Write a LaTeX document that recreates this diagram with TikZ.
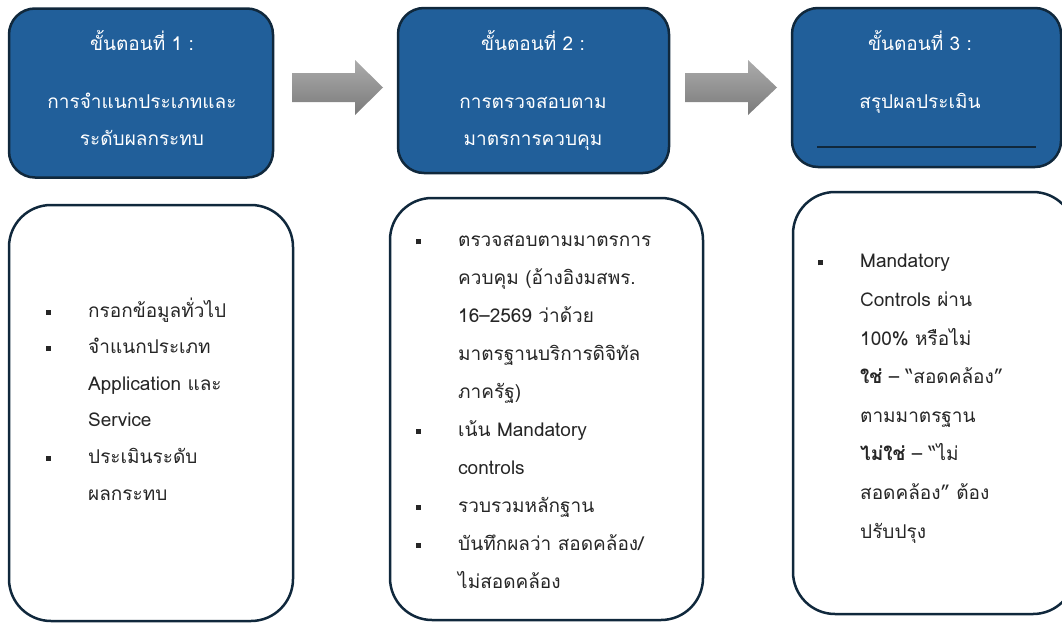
\documentclass[tikz,border=0pt]{standalone}
\usepackage{fontspec}
\newfontfamily\thaifont[Script=Thai]{Loma}
\definecolor{stepblue}{RGB}{33,95,154}
\definecolor{navy}{RGB}{16,40,60}
\definecolor{arrowtop}{RGB}{172,172,172}
\definecolor{arrowbot}{RGB}{122,122,122}
\definecolor{bodytext}{RGB}{38,38,38}
\newcommand\bulsq{\makebox[0pt][r]{\rule[2.5pt]{5pt}{5pt}\hspace{37pt}}}
\begin{document}
\begin{tikzpicture}[x=1pt,y=-1pt,
  topbox/.style={draw=navy, line width=2.5pt, fill=stepblue, rounded corners=26pt, inner sep=0pt},
  detbox/.style={draw=navy, line width=2.5pt, fill=white, rounded corners=42pt, inner sep=0pt},
  toptext/.style={text=white, font=\thaifont\fontsize{19}{37}\selectfont, inner sep=0pt, anchor=base},
  listtext/.style={text=bodytext, align=left, inner sep=0pt, anchor=base west},
  blockarrow/.style={top color=arrowtop, bottom color=arrowbot, draw=none}]
\useasboundingbox (0,0) rectangle (1062,624);
\clip (0,0) rectangle (1062,624);

% top step boxes
\node[topbox, minimum width=264pt, minimum height=169pt] (s1) at (141,93) {};
\node[topbox, minimum width=271pt, minimum height=165pt] (s2) at (533.5,90.5) {};
\node[topbox, minimum width=269pt, minimum height=159pt] (s3) at (926.5,87.5) {};

\node[toptext] (s1t) at (142,50) {ขั้นตอนที่ 1 :};
\node[toptext] (s1a) at (142,108) {การจำแนกประเภทและ};
\node[toptext] (s1b) at (142,145) {ระดับผลกระทบ};

\node[toptext] (s2t) at (533,50) {ขั้นตอนที่ 2 :};
\node[toptext] (s2a) at (533,108) {การตรวจสอบตาม};
\node[toptext] (s2b) at (533,145) {มาตรการควบคุม};

\node[toptext] (s3t) at (920,50) {ขั้นตอนที่ 3 :};
\node[toptext] (s3a) at (920,108) {สรุปผลประเมิน};
\coordinate (l3a) at (817,147);
\coordinate (l3b) at (1036,147);
\draw[navy, line width=1.2pt] (l3a) -- (l3b);

% block arrows
\path[blockarrow] (292,73) -- (355,73) -- (355,60) -- (383,87.5) -- (355,115) -- (355,102) -- (292,102) -- cycle;
\path[blockarrow] (685,73) -- (748,73) -- (748,60) -- (777,87.5) -- (748,115) -- (748,102) -- (685,102) -- cycle;

% detail boxes
\node[detbox, minimum width=284pt, minimum height=416pt] (d1) at (151,413) {};
\node[detbox, minimum width=313pt, minimum height=422pt] (d2) at (546.5,409) {};
\node[detbox, minimum width=282pt, minimum height=422pt] (d3) at (934,403) {};

\node[listtext, font=\thaifont\fontsize{19}{36.6}\selectfont] (d1t) at (88,500) {%
\bulsq กรอกข้อมูลทั่วไป\\
\bulsq จำแนกประเภท\\
Application และ\\
Service\\
\bulsq ประเมินระดับ\\
ผลกระทบ};

\node[listtext, font=\thaifont\fontsize{19}{37.9}\selectfont] (d2t) at (458,588) {%
\bulsq ตรวจสอบตามมาตรการ\\
ควบคุม (อ้างอิงมสพร.\\
16–2569 ว่าด้วย\\
มาตรฐานบริการดิจิทัล\\
ภาครัฐ)\\
\bulsq เน้น Mandatory\\
controls\\
\bulsq รวบรวมหลักฐาน\\
\bulsq บันทึกผลว่า สอดคล้อง/\\
ไม่สอดคล้อง};

\node[listtext, font=\thaifont\fontsize{19}{38.6}\selectfont] (d3t) at (860,538) {%
\bulsq Mandatory\\
Controls ผ่าน\\
100\% หรือไม่\\
\textbf{ใช่} – “สอดคล้อง”\\
ตามมาตรฐาน\\
\textbf{ไม่ใช่} – “ไม่\\
สอดคล้อง” ต้อง\\
ปรับปรุง};
\end{tikzpicture}
\end{document}
